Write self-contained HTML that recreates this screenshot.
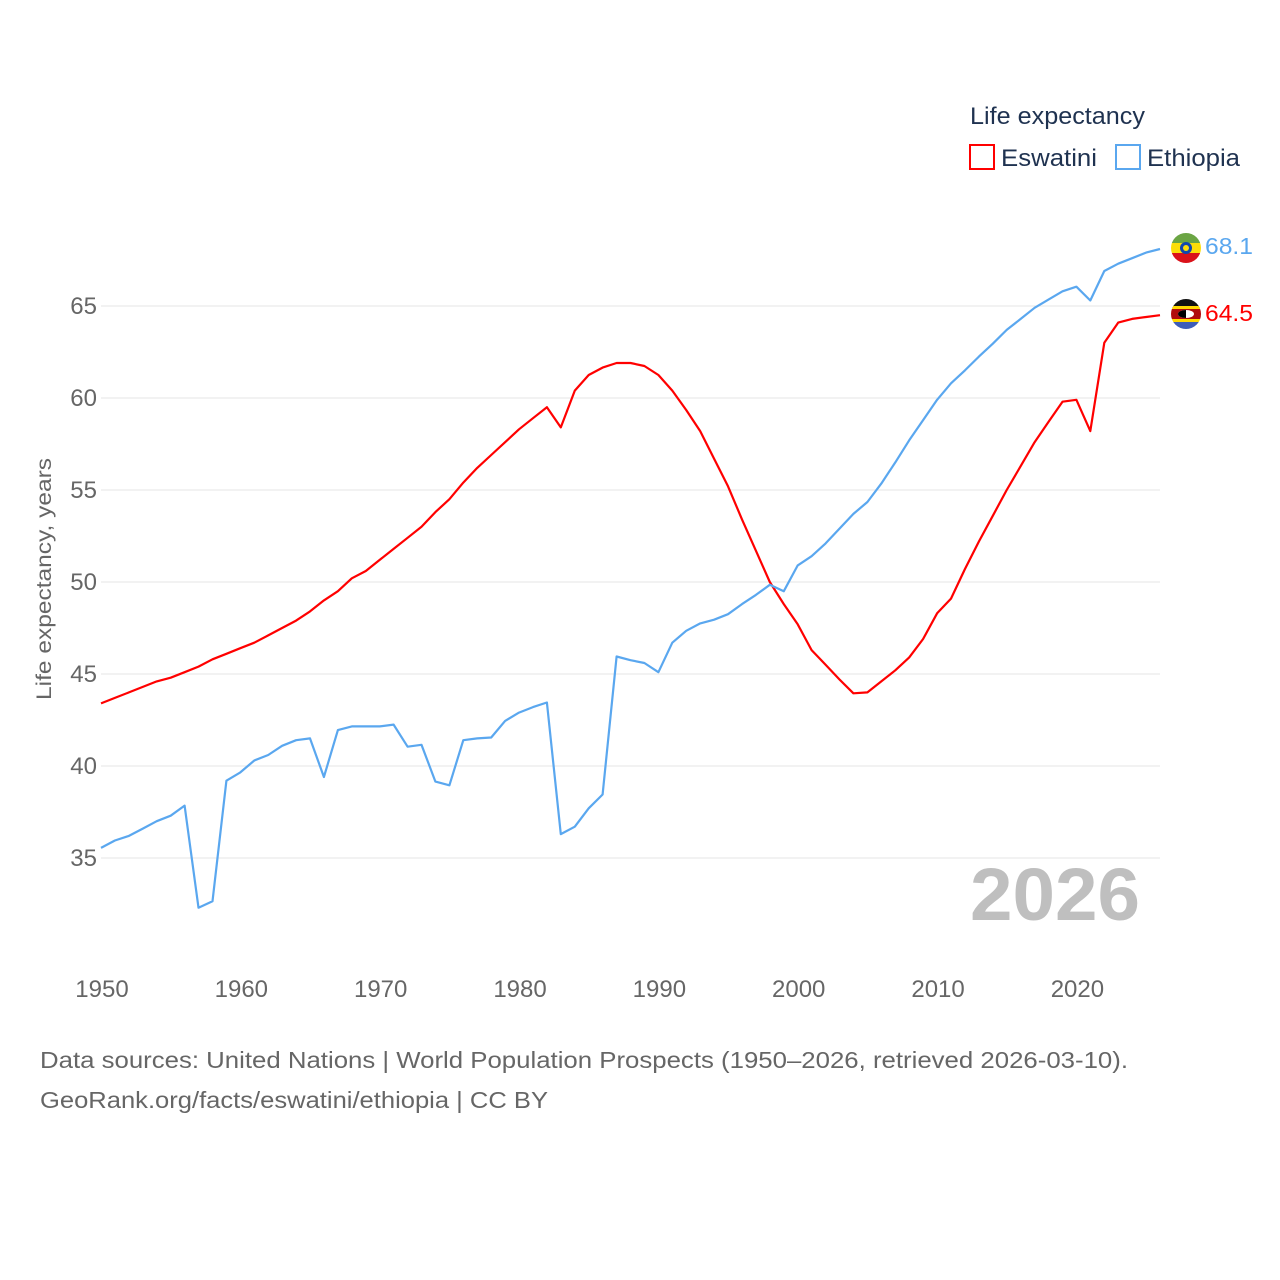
<!DOCTYPE html>
<html><head><meta charset="utf-8"><style>
body{margin:0;background:#fff;font-family:"Liberation Sans",sans-serif;}
svg{display:block}
</style></head><body>
<svg id="chart" width="1280" height="1280" xmlns="http://www.w3.org/2000/svg" font-family="Liberation Sans, sans-serif">
<rect width="1280" height="1280" fill="#fff"/>
<g id="grid"></g>
<g id="yticks"></g>
<g id="xticks"></g>
<text x="1140" y="920" text-anchor="end" font-size="74" font-weight="bold" fill="#bfbfbf" textLength="170" lengthAdjust="spacingAndGlyphs">2026</text>
<g id="lines"></g>
<text transform="translate(51,579) rotate(-90)" text-anchor="middle" font-size="21" fill="#666" textLength="242" lengthAdjust="spacingAndGlyphs">Life expectancy, years</text>
<g>
<text x="970" y="124" font-size="24" fill="#1f3250" textLength="175" lengthAdjust="spacingAndGlyphs">Life expectancy</text>
<g>
<rect x="970" y="145" width="24" height="24" fill="none" stroke="#ff0000" stroke-width="2"/>
<text x="1001" y="166" font-size="24" fill="#1f3250" textLength="96" lengthAdjust="spacingAndGlyphs">Eswatini</text></g>
<g>
<rect x="1116" y="145" width="24" height="24" fill="none" stroke="#5aa7ef" stroke-width="2"/>
<text x="1147" y="166" font-size="24" fill="#1f3250" textLength="93" lengthAdjust="spacingAndGlyphs">Ethiopia</text></g>
</g>
<defs>
<clipPath id="c1"><circle cx="1186" cy="248" r="15"/></clipPath>
<clipPath id="c2"><circle cx="1186" cy="314" r="15"/></clipPath>
</defs>
<g clip-path="url(#c1)">
<rect x="1171" y="233" width="30" height="10" fill="#6ba544"/>
<rect x="1171" y="243" width="30" height="10" fill="#fcdd09"/>
<rect x="1171" y="253" width="30" height="10" fill="#da121a"/>
<circle cx="1186" cy="248" r="6" fill="#0f47af"/>
<circle cx="1186" cy="248" r="3" fill="#fcdd09"/>
</g>
<g clip-path="url(#c2)">
<rect x="1171" y="299" width="30" height="9" fill="#111"/>
<rect x="1171" y="306" width="30" height="3" fill="#ffd900"/>
<rect x="1171" y="309" width="30" height="10" fill="#b10c0c"/>
<rect x="1171" y="319" width="30" height="3" fill="#ffd900"/>
<rect x="1171" y="322" width="30" height="8" fill="#3e5eb9"/>
<ellipse cx="1186" cy="314" rx="8" ry="4" fill="#fff"/>
<path d="M1178 314 A8 4 0 0 1 1186 310 L1186 318 A8 4 0 0 1 1178 314Z" fill="#000"/>
</g>
<text x="1205" y="254" font-size="23" fill="#5aa7ef" textLength="48" lengthAdjust="spacingAndGlyphs">68.1</text>
<text x="1205" y="321" font-size="23" fill="#ff0000" textLength="48" lengthAdjust="spacingAndGlyphs">64.5</text>
<text x="40" y="1068" font-size="23" fill="#666" textLength="1088" lengthAdjust="spacingAndGlyphs">Data sources: United Nations | World Population Prospects (1950–2026, retrieved 2026-03-10).</text>
<text x="40" y="1108" font-size="23" fill="#666" textLength="508" lengthAdjust="spacingAndGlyphs">GeoRank.org/facts/eswatini/ethiopia | CC BY</text>
</svg>
<script>
const years = []; for (let y = 1950; y <= 2026; y++) years.push(y);
const eswatini = [43.4,43.7,44.0,44.3,44.6,44.8,45.1,45.4,45.8,46.1,46.4,46.7,47.1,47.5,47.9,48.4,49.0,49.5,50.2,50.6,51.2,51.8,52.4,53.0,53.8,54.5,55.4,56.2,56.9,57.6,58.3,58.9,59.5,58.4,60.4,61.25,61.65,61.9,61.9,61.74,61.25,60.4,59.35,58.2,56.7,55.2,53.4,51.7,50.0,48.8,47.7,46.3,45.5,44.7,43.95,44.0,44.6,45.2,45.9,46.9,48.3,49.1,50.7,52.2,53.6,55.0,56.3,57.6,58.7,59.8,59.9,58.2,63.0,64.1,64.3,64.4,64.5];
const ethiopia = [35.55,35.95,36.2,36.6,37.0,37.3,37.85,32.3,32.65,39.2,39.65,40.3,40.6,41.1,41.4,41.5,39.4,41.95,42.15,42.15,42.15,42.25,41.05,41.15,39.15,38.95,41.4,41.5,41.55,42.45,42.9,43.2,43.45,36.3,36.7,37.7,38.45,45.95,45.75,45.6,45.1,46.7,47.35,47.75,47.95,48.25,48.8,49.3,49.85,49.5,50.9,51.4,52.1,52.9,53.7,54.35,55.35,56.5,57.7,58.8,59.9,60.8,61.5,62.25,62.95,63.7,64.3,64.9,65.35,65.8,66.05,65.3,66.9,67.3,67.6,67.9,68.1];
const yTicks = [35,40,45,50,55,60,65];
const xTicks = [1950,1960,1970,1980,1990,2000,2010,2020];
const NS = "http://www.w3.org/2000/svg";
const xs = yr => 101 + (yr - 1950) * (1160 - 101) / 76;
const ys = v => 306 + (65 - v) * 18.4;
function mk(tag, attrs, parent){ const e=document.createElementNS(NS,tag); for(const k in attrs) e.setAttribute(k,attrs[k]); parent.appendChild(e); return e; }
const grid=document.getElementById('grid'), yt=document.getElementById('yticks'), xt=document.getElementById('xticks'), lines=document.getElementById('lines');
yTicks.forEach(v=>{
  const l=mk('line',{x1:101,x2:1160,y1:ys(v),y2:ys(v),stroke:'#e6e6e6','stroke-width':1},grid);
  
  
  const t=mk('text',{x:97,y:ys(v)+8,'text-anchor':'end','font-size':24,fill:'#666'},yt);
  t.textContent=v;
  
  
});
xTicks.forEach(yr=>{
  const t=mk('text',{x:xs(yr)+1,y:997,'text-anchor':'middle','font-size':24,fill:'#666'},xt);
  t.textContent=yr;
  
  
});
function draw(vals,color,name){
  const d=vals.map((v,i)=>(i?'L':'M')+xs(years[i]).toFixed(1)+' '+ys(v).toFixed(1)).join(' ');
  const p=mk('path',{d:d,fill:'none',stroke:color,'stroke-width':2.2,'stroke-linejoin':'round'},lines);
  
  
}
draw(eswatini,'#ff0000','eswatini-line');
draw(ethiopia,'#5aa7ef','ethiopia-line');
</script>
</body></html>
